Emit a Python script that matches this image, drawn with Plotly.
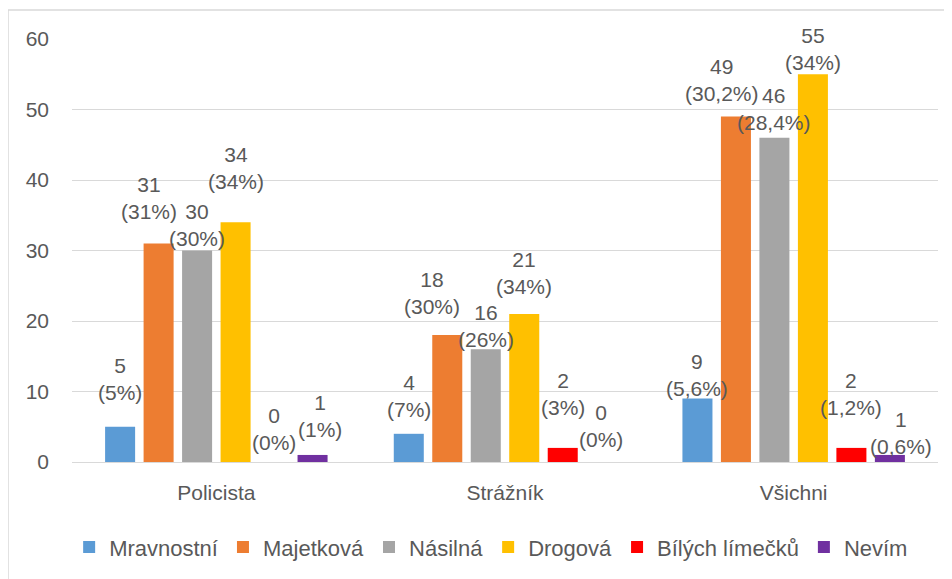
import plotly.graph_objects as go

# categories and series
categories = ["Policista", "Strážník", "Všichni"]
series_names = ["Mravnostní", "Majetková", "Násilná", "Drogová", "Bílých límečků", "Nevím"]
colors = ["#5B9BD5", "#ED7D31", "#A5A5A5", "#FFC000", "#FF0000", "#7030A0"]

mravnostni = [5, 4, 9]
majetkova = [31, 18, 49]
nasilna = [30, 16, 46]
drogova = [34, 21, 55]
bilych = [0, 2, 2]
nevim = [1, 0, 1]

mravnostni_pct = ["5%", "7%", "5,6%"]
majetkova_pct = ["31%", "30%", "30,2%"]
nasilna_pct = ["30%", "26%", "28,4%"]
drogova_pct = ["34%", "34%", "34%"]
bilych_pct = ["0%", "3%", "1,2%"]
nevim_pct = ["1%", "0%", "0,6%"]

values = [mravnostni, majetkova, nasilna, drogova, bilych, nevim]
pcts = [mravnostni_pct, majetkova_pct, nasilna_pct, drogova_pct, bilych_pct, nevim_pct]

# label nudges (pixels), like the hand-placed labels in the original
# rows = category, columns = series
label_yshift = [
    [21, 18, -1, 27, 6, 12],
    [11, 15, -4, 14, 27, 9],
    [-3, 10, 2, -2, 27, -5],
]
label_xshift = {(1, 0): -10, (1, 1): -15, (1, 2): -14, (5, 0): 7, (5, 2): 11}

FONT = "Liberation Sans"
GREY = "#595959"
BARGAP = 0.2

xpos = list(range(len(categories)))

fig = go.Figure()
for name, col, vals in zip(series_names, colors, values):
    fig.add_trace(go.Bar(
        x=xpos, y=vals, name=name,
        marker_color=col, marker_line_width=0,
        hoverinfo="skip",
    ))

# data labels: "value<br>(percent)" above each bar
n = len(series_names)
slot = (1 - BARGAP) / n
annotations = []
for i, (vals, pc) in enumerate(zip(values, pcts)):
    for c, (v, p) in enumerate(zip(vals, pc)):
        annotations.append(dict(
            x=c - (1 - BARGAP) / 2 + slot * (i + 0.5), y=v,
            xref="x", yref="y",
            text=f"{v}<br>({p})",
            showarrow=False, yanchor="bottom",
            yshift=label_yshift[c][i], xshift=label_xshift.get((i, c), 0),
            font=dict(family=FONT, size=21, color=GREY),
        ))

# page body has an 8px margin, so the margins are shifted to compensate
fig.update_layout(
    barmode="group",
    bargap=BARGAP,
    bargroupgap=0.22,
    width=952, height=579,
    margin=dict(l=64, r=22, t=31, b=125, autoexpand=False),
    paper_bgcolor="white",
    plot_bgcolor="white",
    font=dict(family=FONT, size=21, color=GREY),
    annotations=annotations,
    legend=dict(
        orientation="h", x=0.484, xanchor="center", y=-0.152, yanchor="top",
        font=dict(family=FONT, size=22, color=GREY),
        itemwidth=30, traceorder="normal",
    ),
    shapes=[dict(
        type="rect", xref="paper", yref="paper",
        x0=-0.0739, x1=1.2, y0=-0.6, y1=1.0686,
        line=dict(color="#D9D9D9", width=1.5), layer="below",
    )],
)
fig.update_xaxes(
    tickvals=xpos, ticktext=categories, range=[-0.5, 2.5], automargin=False,
    showgrid=False, showline=True, linecolor="#D9D9D9", linewidth=1,
    ticks="", tickfont=dict(size=21), ticklabelstandoff=12,
)
fig.update_yaxes(
    range=[0, 60], dtick=10, showgrid=True, gridcolor="#D9D9D9", automargin=False,
    gridwidth=1, zeroline=False, showline=False, ticks="",
    tickfont=dict(size=21), ticklabelstandoff=22,
)

fig.write_html("out.html")
